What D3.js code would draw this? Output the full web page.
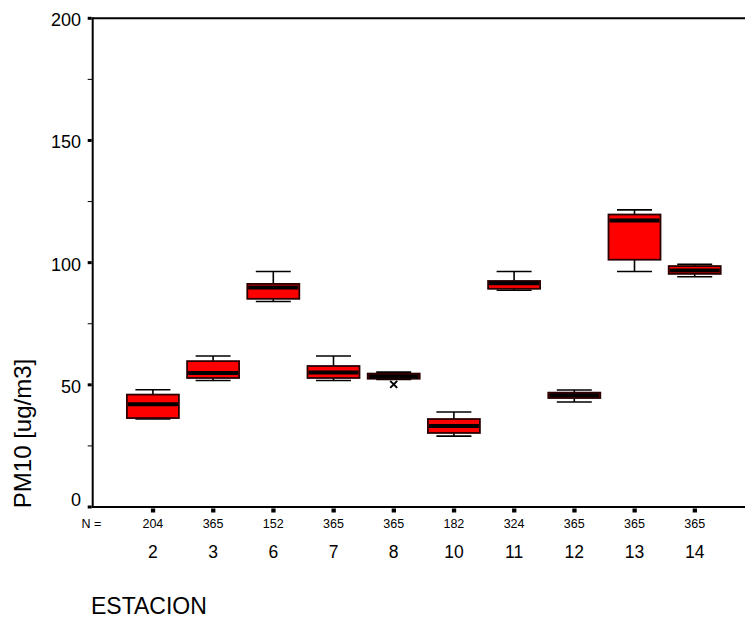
<!DOCTYPE html>
<html>
<head>
<meta charset="utf-8">
<script src="https://cdn.jsdelivr.net/npm/d3@7"></script>
<style>
  html, body { margin: 0; padding: 0; background: #fff; }
  svg { display: block; }
  text { font-family: Arial, "Liberation Sans", sans-serif; fill: #000; }
</style>
</head>
<body>
<svg id="chart" width="745" height="620"></svg>
<script>
// ---- data ----
const stations    = ["2", "3", "6", "7", "8", "10", "11", "12", "13", "14"];
const nValues     = [204, 365, 152, 365, 365, 182, 324, 365, 365, 365];
const whiskerLow  = [36.0, 51.8, 84.1, 51.8, 52.2, 29.0, 88.7, 43.0, 96.4, 94.2];
const q1          = [36.4, 52.8, 85.2, 52.8, 52.5, 30.3, 89.3, 44.6, 101.2, 95.4];
const medians     = [42.0, 54.8, 89.8, 55.0, 53.5, 33.2, 91.6, 45.7, 117.3, 96.8];
const q3          = [46.0, 59.7, 91.3, 57.7, 54.6, 36.0, 92.5, 46.8, 119.7, 98.6];
const whiskerHigh = [48.0, 61.8, 96.4, 61.8, 55.2, 38.9, 96.4, 47.9, 121.6, 99.3];
const outlierStations = ["8"];
const outlierValues   = [50.2];
const yMajorTicks = [0, 50, 100, 150, 200];
const yMinorTicks = [25, 75, 125, 175];

// ---- layout ----
const svg = d3.select("#chart");
const plotLeft = 92.7, plotTop = 18.3, plotBottom = 507, plotRightEnd = 754.9;

const x = d3.scalePoint().domain(stations).range([plotLeft, plotRightEnd]).padding(1);
const y = d3.scaleLinear().domain([0, 200]).range([plotBottom, plotTop]);

const boxW = 52, capW = 35;

// frame lines
svg.append("line").attr("x1", plotLeft).attr("x2", 745).attr("y1", y(200)).attr("y2", y(200))
  .attr("stroke", "#000").attr("stroke-width", 2);
svg.append("line").attr("x1", plotLeft).attr("x2", 745).attr("y1", y(0)).attr("y2", y(0))
  .attr("stroke", "#000").attr("stroke-width", 2);
svg.append("line").attr("x1", plotLeft).attr("x2", plotLeft).attr("y1", y(200) - 1).attr("y2", y(0) + 1)
  .attr("stroke", "#000").attr("stroke-width", 2);

// y ticks
svg.selectAll(".ymaj").data(yMajorTicks).enter().append("rect")
  .attr("x", plotLeft - 5).attr("y", d => y(d) - 1.5).attr("width", 4).attr("height", 3)
  .attr("fill", "#000");
svg.selectAll(".ymin").data(yMinorTicks).enter().append("line")
  .attr("x1", plotLeft - 5).attr("x2", plotLeft).attr("y1", d => y(d)).attr("y2", d => y(d))
  .attr("stroke", "#000").attr("stroke-width", 1);
svg.selectAll(".ylab").data(yMajorTicks).enter().append("text")
  .attr("x", 81).attr("y", d => Math.min(y(d) + 1.5, plotBottom - 7.5)).attr("dy", "0.36em")
  .attr("text-anchor", "end").attr("font-size", 18).text(d => d);

// x ticks
svg.selectAll(".xtick").data(stations).enter().append("rect")
  .attr("x", d => x(d) - 2).attr("y", plotBottom + 1.5).attr("width", 4.3).attr("height", 4)
  .attr("fill", "#000");

// N labels
svg.append("text").attr("x", 81.5).attr("y", 528.3)
  .attr("font-size", 12.5).text("N =");
svg.selectAll(".nlab").data(stations).enter().append("text")
  .attr("x", d => x(d)).attr("y", 528.3)
  .attr("text-anchor", "middle").attr("font-size", 12.5).text((d, i) => nValues[i]);

// category labels
svg.selectAll(".clab").data(stations).enter().append("text")
  .attr("x", d => x(d)).attr("y", 558.3)
  .attr("text-anchor", "middle").attr("font-size", 17.5).text(d => d);

// axis titles
svg.append("text").attr("x", 91).attr("y", 613.5)
  .attr("font-size", 23).text("ESTACION");
svg.append("text").attr("transform", "translate(22,433.5) rotate(-90)")
  .attr("dy", "0.36em").attr("text-anchor", "middle").attr("font-size", 24)
  .text("PM10 [ug/m3]");

// boxes
const g = svg.selectAll(".box").data(stations).enter().append("g");
g.append("line").attr("x1", d => x(d)).attr("x2", d => x(d))
  .attr("y1", (d, i) => y(whiskerHigh[i])).attr("y2", (d, i) => y(q3[i]))
  .attr("stroke", "#000").attr("stroke-width", 1.6);
g.append("line").attr("x1", d => x(d)).attr("x2", d => x(d))
  .attr("y1", (d, i) => y(whiskerLow[i])).attr("y2", (d, i) => y(q1[i]))
  .attr("stroke", "#000").attr("stroke-width", 1.6);
g.append("line").attr("x1", d => x(d) - capW / 2).attr("x2", d => x(d) + capW / 2)
  .attr("y1", (d, i) => y(whiskerHigh[i])).attr("y2", (d, i) => y(whiskerHigh[i]))
  .attr("stroke", "#000").attr("stroke-width", 1.6);
g.append("line").attr("x1", d => x(d) - capW / 2).attr("x2", d => x(d) + capW / 2)
  .attr("y1", (d, i) => y(whiskerLow[i])).attr("y2", (d, i) => y(whiskerLow[i]))
  .attr("stroke", "#000").attr("stroke-width", 1.6);
g.append("rect").attr("x", d => x(d) - boxW / 2).attr("width", boxW)
  .attr("y", (d, i) => y(q3[i])).attr("height", (d, i) => y(q1[i]) - y(q3[i]))
  .attr("fill", "#ff0000").attr("stroke", "#2a0000").attr("stroke-width", 1.8);
g.append("line").attr("x1", d => x(d) - boxW / 2 + 1).attr("x2", d => x(d) + boxW / 2 - 1)
  .attr("y1", (d, i) => y(medians[i])).attr("y2", (d, i) => y(medians[i]))
  .attr("stroke", "#000").attr("stroke-width", 4);

// outliers (x marks)
const s = 3.5;
svg.selectAll(".out").data(outlierValues).enter().append("path")
  .attr("d", (v, i) => {
    const cx = x(outlierStations[i]), cy = y(v);
    return `M${cx - s},${cy - s}L${cx + s},${cy + s}M${cx - s},${cy + s}L${cx + s},${cy - s}`;
  })
  .attr("stroke", "#000").attr("stroke-width", 2).attr("fill", "none");
</script>
</body>
</html>
